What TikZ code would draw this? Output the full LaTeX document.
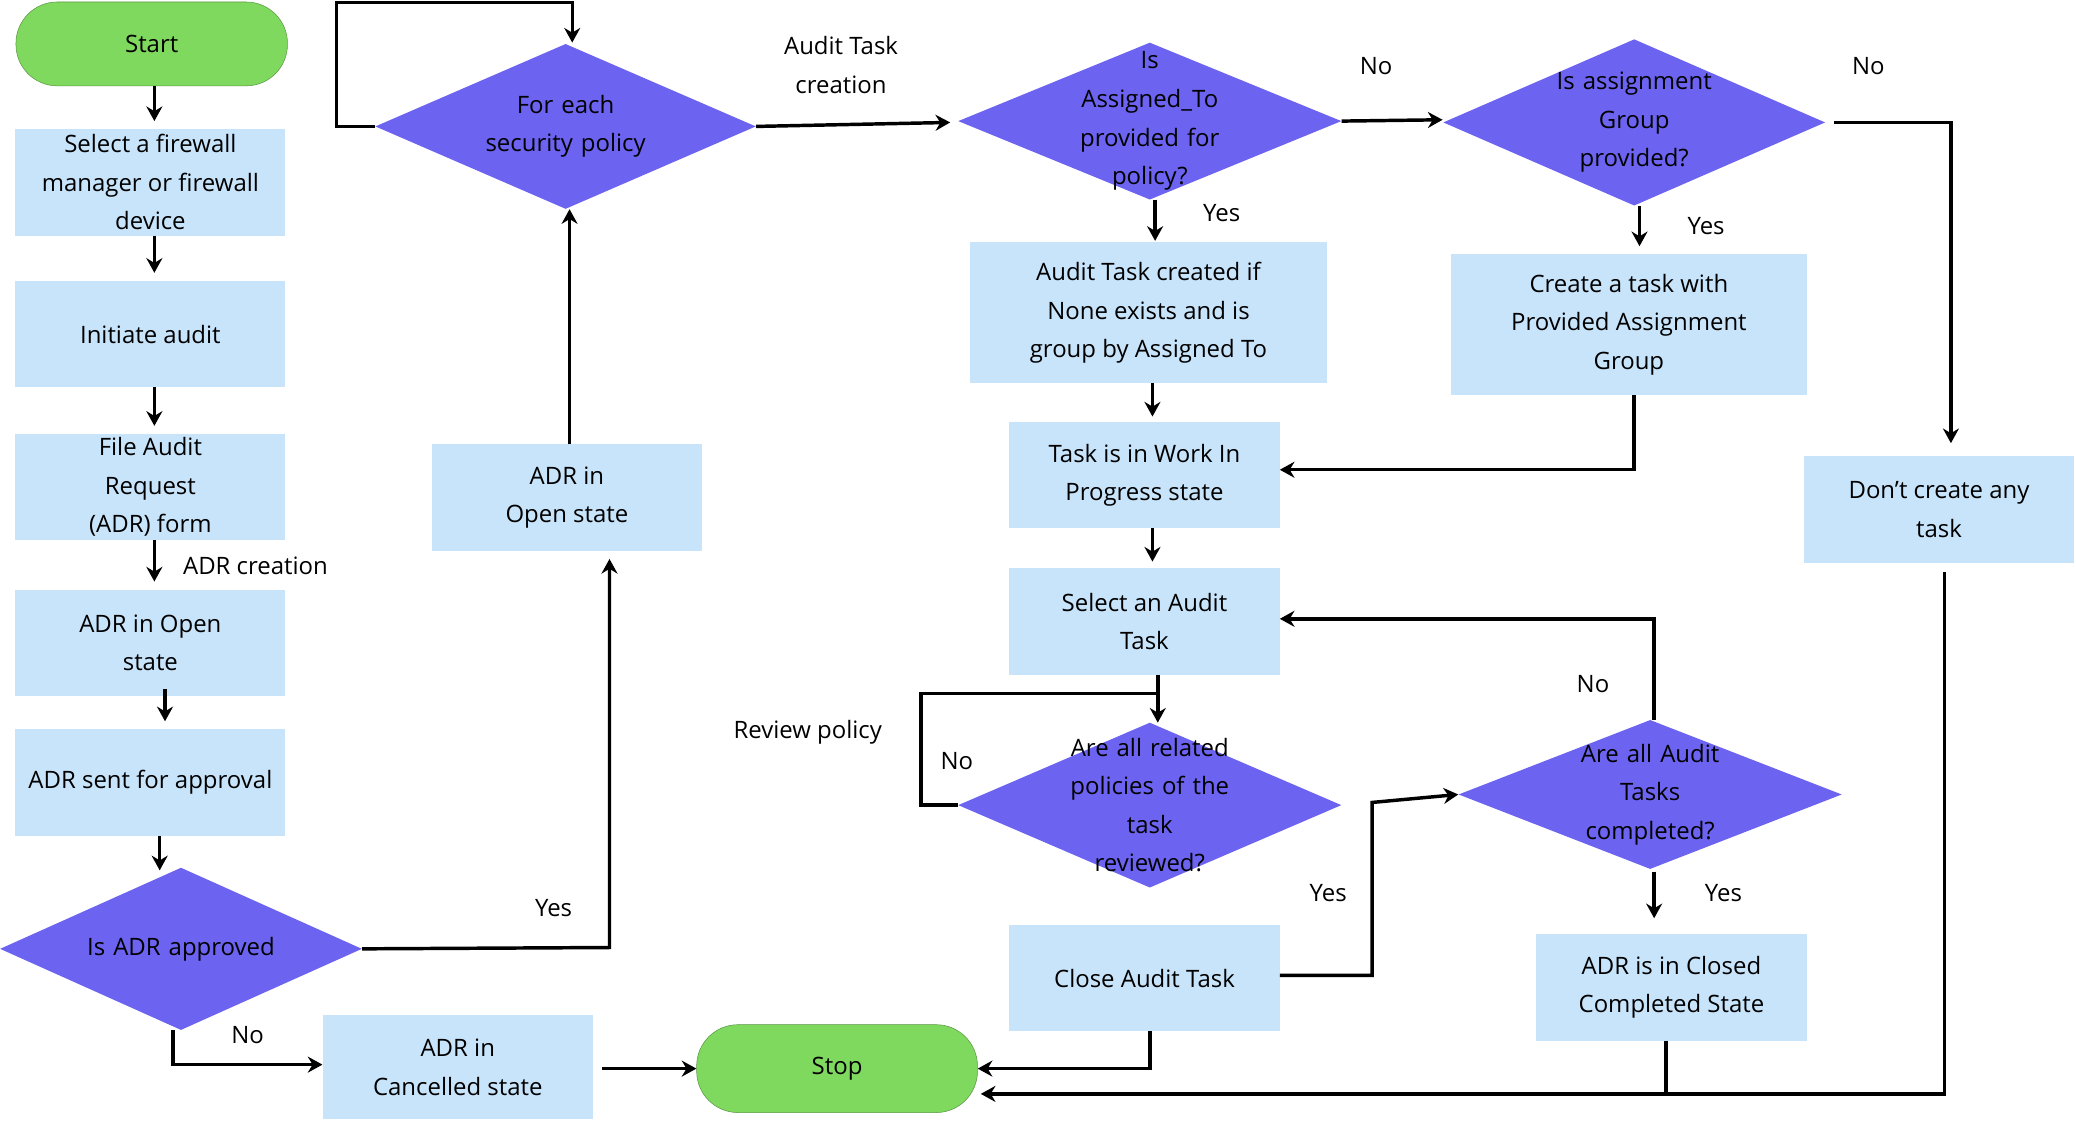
\documentclass[tikz,border=0pt]{standalone}
\usepackage{fontspec}
\setmainfont{Open Sans}
\usetikzlibrary{shapes.geometric,arrows.meta}
\definecolor{bx}{HTML}{C8E4FA}
\definecolor{dm}{HTML}{6C63F0}
\definecolor{gr}{HTML}{80D95F}
\begin{document}
\begin{tikzpicture}[x=1pt,y=-1pt,
  every node/.style={font=\fontsize{18}{29}\selectfont},
  box/.style={fill=bx,draw=none,minimum width=#1,align=center,inner sep=0},
  box/.default=203,
  dia/.style={shape=diamond,fill=dm,draw=none,inner sep=0,minimum width=#1,aspect=2.3},
  dtxt/.style={align=center,text width=150},
  term/.style={fill=gr,draw=gr!70!black,rounded corners=31,minimum height=63,inner sep=0},
  ar/.style={line width=2.6pt,-{Stealth[length=11pt,width=12pt]}},
  ln/.style={line width=2.6pt},
  lb/.style={inner sep=1}]
\useasboundingbox (0,0) rectangle (1560,853);
% left column
\node[term,minimum width=204] (start) at (114,33) {Start};
\node[box,minimum height=80] (sel) at (113,137) {Select a firewall\\manager or firewall\\device};
\node[box,minimum height=80] (ini) at (113,251) {Initiate audit};
\node[box,minimum height=80] (file) at (113,366) {File Audit\\Request\\(ADR) form};
\node[box,minimum height=80] (open1) at (113,483) {ADR in Open\\state};
\node[box,minimum height=80] (sent) at (113,588) {ADR sent for approval};
\node[dia=272,minimum height=122] (appr) at (136,713) {};
\node[dtxt] at (appr) {Is ADR approved};
\node[box,minimum height=78] (canc) at (344,802) {ADR in\\Cancelled state};
\node[term,minimum width=211,minimum height=66] (stop) at (629,803) {Stop};
\node[box,minimum height=80] (open2) at (426,374) {ADR in\\Open state};
\node[dia=286,minimum height=124] (each) at (425,95) {};
\node[dtxt] at (each) {For each\\security policy};
% middle
\node[dia=288,minimum height=118] (asg) at (864,91) {};
\node[dtxt,text width=120] at (asg) {Is\\Assigned\_To\\provided for\\policy?};
\node[box=268,minimum height=106] (atc) at (863,235) {Audit Task created if\\None exists and is\\group by Assigned To};
\node[dia=287,minimum height=125] (grp) at (1228,92) {};
\node[dtxt,text width=140] at (grp) {Is assignment\\Group\\provided?};
\node[box=268,minimum height=106] (ctk) at (1224,244) {Create a task with\\Provided Assignment\\Group};
\node[box,minimum height=80] (none) at (1457,383) {Don’t create any\\task};
\node[box,minimum height=80] (wip) at (860,357) {Task is in Work In\\Progress state};
\node[box,minimum height=80] (sat) at (860,467) {Select an Audit\\Task};
\node[dia=288,minimum height=124] (rel) at (864,605) {};
\node[dtxt,text width=140] at (rel) {Are all related\\policies of the\\task\\reviewed?};
\node[dia=288,minimum height=112] (cmp) at (1240,597) {};
\node[dtxt,text width=140] at (cmp) {Are all Audit\\Tasks\\completed?};
\node[box,minimum height=80] (close) at (860,735) {Close Audit Task};
\node[box,minimum height=80] (clo) at (1256,742) {ADR is in Closed\\Completed State};
% labels
\node[lb,align=center] (l1) at (632,49) {Audit Task\\creation};
\node[lb] (l2) at (1034,50) {No};
\node[lb] (l3) at (1404,50) {No};
\node[lb] (l4) at (918,160) {Yes};
\node[lb] (l5) at (1282,170) {Yes};
\node[lb] (l6) at (192,425) {ADR creation};
\node[lb] (l7) at (607,550) {Review policy};
\node[lb] (l8) at (719,572) {No};
\node[lb] (l9) at (998,671) {Yes};
\node[lb] (l10) at (1197,514) {No};
\node[lb] (l11) at (1295,671) {Yes};
\node[lb] (l12) at (416,682) {Yes};
\node[lb] (l13) at (186,778) {No};
% edges left
\draw[ar] (start.south -| 116,0) -- (116,91);
\draw[ar] (116,177) -- (116,205);
\draw[ar] (116,291) -- (116,320);
\draw[ar] (116,406) -- (116,437);
\draw[ar] (124,518) -- (124,542);
\draw[ar] (120,628) -- (120,654);
\coordinate (c1) at (130,800);
\draw[ar] (130,774) -- (c1) -- (canc.west |- c1);
\draw[ar] (452,803) -- (stop.west);
\coordinate (c2) at (458,712);
\draw[ar] (appr.east) -- (c2) -- (458,420);
\draw[ar] (428,334) -- (each.south -| 428,0);
\coordinate (c3) at (253,2);
\draw[ar] (each.west) -- (253,95) -- (c3) -- (430,2) -- (430,32);
\draw[ar] (each.east) -- (714,92);
% middle
\draw[ar] (asg.east) -- (1084,90);
\draw[ar] (868,150) -- (868,181);
\draw[ar] (1232,155) -- (1232,185);
\coordinate (c4) at (1466,92);
\draw[ar] (1378,92) -- (c4) -- (1466,333);
\draw[ar] (866,288) -- (866,313);
\coordinate (c5) at (1228,353);
\draw[ar] (1228,297) -- (c5) -- (wip.east |- c5);
\draw[ar] (866,397) -- (866,422);
\coordinate (c6) at (692,521);
\draw[ln] (rel.west) -- (692,605) -- (c6) -- (870,521);
\draw[ar] (870,507) -- (870,543);
\coordinate (c7) at (1031,733);
\draw[ar] (close.east |- c7) -- (c7) -- (1031,603) -- (cmp.west);
\coordinate (c8) at (1243,465);
\draw[ar] (cmp.north -| 1243,0) -- (c8) -- (sat.east |- c8);
\draw[ar] (1243,655) -- (1243,690);
\coordinate (c9) at (864,803);
\draw[ar] (864,775) -- (c9) -- (stop.east);
\coordinate (c10) at (1461,822);
\draw[ar] (1461,430) -- (c10) -- (737,822);
\draw[ln] (1252,782) -- (1252,822);
\end{tikzpicture}
\end{document}
